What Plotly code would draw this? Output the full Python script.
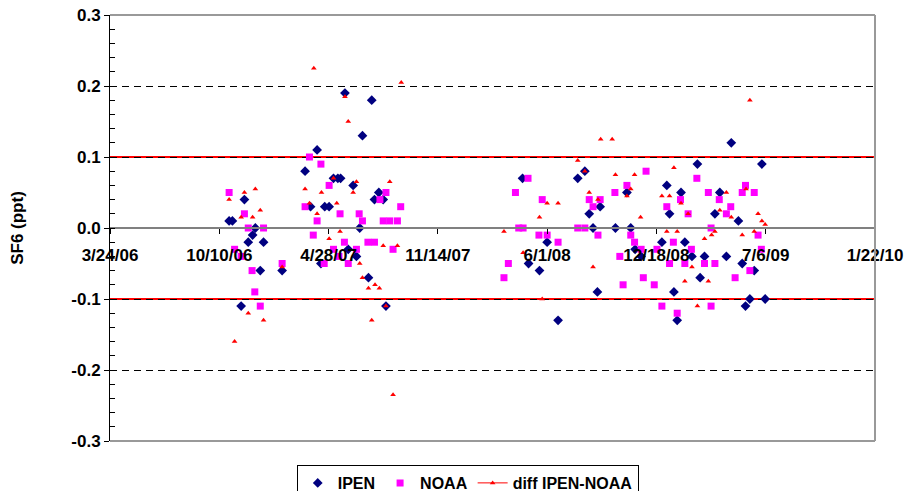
import numpy as np
import pandas as pd
import plotly.graph_objects as go

# ---- data (x as Excel serial dates, y in ppt) ----
ipen_dates = [39018, 39024, 39046, 39053, 39061, 39066, 39040, 39075, 39081, 39115,
              39157, 39179, 39167, 39186, 39193, 39201, 39209, 39217, 39222, 39230,
              39236, 39245, 39251, 39257, 39262, 39273, 39279, 39284, 39292, 39300, 39305,
              39555, 39566, 39586, 39600, 39620, 39656, 39669, 39677, 39684, 39692,
              39697, 39725, 39746, 39753, 39761, 39772, 39810, 39819, 39824, 39832,
              39838, 39845, 39852, 39865, 39875, 39880, 39888, 39907, 39916, 39928,
              39937, 39950, 39957, 39963, 39971, 39979, 39993, 39999]
ipen_vals = [0.01, 0.01, 0.04, -0.02, -0.01, 0.00, -0.11, -0.06, -0.02, -0.06,
             0.08, 0.11, 0.03, -0.05, 0.03, 0.03, 0.07, 0.07, 0.07, 0.19,
             -0.03, 0.06, -0.04, 0.00, 0.13, -0.07, 0.18, 0.04, 0.05, 0.04, -0.11,
             0.07, -0.05, -0.06, -0.02, -0.13, 0.07, 0.08, 0.02, 0.00, -0.09,
             0.03, 0.00, 0.05, 0.00, -0.03, -0.04, -0.02, 0.06, 0.02, -0.09,
             -0.13, 0.05, -0.02, -0.04, 0.09, -0.07, -0.04, 0.02, 0.05, -0.04,
             0.12, 0.01, -0.05, -0.11, -0.10, -0.06, 0.09, -0.10]

noaa_dates = [39018, 39028, 39040, 39046, 39053, 39060, 39065, 39075, 39081, 39115,
              39157, 39165, 39172, 39179, 39186, 39192, 39201, 39209, 39219, 39221,
              39229, 39236, 39251, 39256, 39262, 39272, 39284, 39294, 39300, 39305,
              39312, 39318, 39326, 39332,
              39521, 39529, 39542, 39548, 39556, 39565, 39585, 39591, 39600, 39620,
              39656, 39669, 39677, 39684, 39693, 39697, 39724, 39733, 39739, 39746,
              39753, 39760, 39772, 39776, 39781, 39796, 39801, 39810, 39819, 39824,
              39831, 39838, 39844, 39852, 39858, 39864, 39874, 39888, 39895, 39900,
              39900, 39907, 39915, 39928, 39936, 39944, 39957, 39963, 39971, 39979,
              39986, 39992]
noaa_vals = [0.05, -0.03, -0.04, 0.02, 0.00, -0.06, -0.09, -0.11, 0.00, -0.05,
             0.03, 0.10, -0.01, 0.01, 0.09, -0.05, 0.06, -0.03, -0.04, 0.02,
             -0.02, -0.05, -0.03, 0.02, 0.01, -0.02, -0.02, 0.04, 0.01, 0.05,
             0.01, -0.03, 0.01, 0.03,
             -0.07, -0.05, 0.05, 0.00, 0.00, 0.07, -0.01, 0.04, -0.01, -0.02,
             0.00, 0.00, 0.04, 0.03, -0.01, 0.04, 0.05, -0.04, -0.08, 0.06,
             -0.01, -0.02, -0.03, -0.07, 0.08, -0.08, -0.03, -0.11, 0.03, -0.05,
             -0.02, -0.12, 0.04, -0.05, 0.02, -0.03, 0.07, -0.05, 0.05, 0.00,
             -0.11, -0.05, 0.04, 0.02, 0.03, -0.07, 0.05, 0.06, -0.06, 0.05,
             -0.01, -0.03]

diff_dates = [39018, 39028, 39040, 39046, 39053, 39061, 39066, 39075, 39081, 39115,
              39157, 39165, 39173, 39179, 39187, 39201, 39209, 39215, 39221, 39230,
              39236, 39245, 39251, 39257, 39262, 39273, 39279, 39285, 39293, 39300,
              39305, 39312, 39318, 39326, 39333,
              39521, 39556, 39586, 39591, 39600, 39620, 39656, 39669, 39677, 39684,
              39693, 39698, 39719, 39725, 39746, 39753, 39760, 39771, 39810, 39819,
              39824, 39832, 39838, 39845, 39852, 39858, 39865, 39875, 39888, 39895,
              39901, 39907, 39916, 39928, 39937, 39957, 39964, 39971, 39979, 39986,
              39993, 39999]
diff_vals = [0.04, -0.16, 0.015, 0.05, -0.12, 0.015, 0.055, 0.025, -0.13, -0.055,
             0.055, 0.035, 0.225, 0.02, 0.05, -0.015, 0.07, 0.035, -0.005, 0.185,
             0.15, 0.05, 0.065, -0.05, -0.07, -0.085, -0.13, -0.08, -0.085, -0.025,
             -0.11, 0.065, -0.235, -0.025, 0.205,
             -0.005, -0.035, 0.015, -0.10, 0.035, 0.035, 0.095, 0.08, 0.05, -0.055,
             0.04, 0.125, 0.125, 0.075, 0.045, 0.055, 0.075, 0.015, 0.045, -0.005,
             0.045, 0.085, -0.005, 0.035, -0.075, 0.02, -0.055, -0.11, -0.015, -0.075,
             -0.01, -0.005, 0.025, 0.05, 0.015, -0.01, 0.055, 0.18, -0.005, 0.02,
             0.01, 0.005]

x_tick_serials = [38800, 39000, 39200, 39400, 39600, 39800, 40000, 40200]
x_tick_labels = ["3/24/06", "10/10/06", "4/28/07", "11/14/07", "6/1/08",
                 "12/18/08", "7/6/09", "1/22/10"]
y_tick_vals = [-0.3, -0.2, -0.1, 0.0, 0.1, 0.2, 0.3]
y_tick_labels = ["-0.3", "-0.2", "-0.1", "0.0", "0.1", "0.2", "0.3"]
limit_lines = [0.1, -0.1]


def to_dt(s):
    return pd.to_datetime(np.asarray(s), unit="D", origin="1899-12-30")


FONT = "Liberation Sans, Arial, sans-serif"
fig = go.Figure()

fig.add_trace(go.Scatter(
    x=to_dt(ipen_dates), y=ipen_vals, mode="markers", name="IPEN",
    marker=dict(symbol="diamond", size=7.5, color="#000080")))
fig.add_trace(go.Scatter(
    x=to_dt(noaa_dates), y=noaa_vals, mode="markers", name="NOAA",
    marker=dict(symbol="square", size=7, color="#FF00FF")))
fig.add_trace(go.Scatter(
    x=to_dt(diff_dates), y=diff_vals, mode="markers", name="diff IPEN-NOAA",
    showlegend=False,
    marker=dict(symbol="triangle-up", size=5, color="#FF0000")))
# legend entry for diff (line + marker)
fig.add_trace(go.Scatter(
    x=[None], y=[None], mode="lines+markers", name="diff IPEN-NOAA",
    line=dict(color="#FF0000", width=1),
    marker=dict(symbol="triangle-up", size=5, color="#FF0000")))

for v in limit_lines:
    fig.add_shape(type="line", xref="paper", x0=0, x1=1, yref="y", y0=v, y1=v,
                  line=dict(color="#FF0000", width=2), layer="between")

# plot border (top, right, bottom)
for (x0, y0, x1, y1) in [(0, 1, 1, 1), (1, 0, 1, 1), (0, 0, 1, 0)]:
    fig.add_shape(type="line", xref="paper", yref="paper", x0=x0, y0=y0, x1=x1, y1=y1,
                  line=dict(color="#999999", width=2), layer="above")

fig.update_layout(
    width=910, height=491,
    margin=dict(l=110, r=35, t=15, b=50, autoexpand=False),
    paper_bgcolor="white", plot_bgcolor="white",
    font=dict(family=FONT, size=16, color="black", weight="bold"),
    showlegend=True,
    legend=dict(orientation="h", xref="container", x=0.514, xanchor="center",
                yref="container", y=0.053, yanchor="top",
                bordercolor="black", borderwidth=1, bgcolor="white",
                font=dict(family=FONT, size=16, color="black", weight="bold"),
                itemwidth=30, tracegroupgap=0),
    xaxis=dict(
        type="date", automargin=False,
        range=list(to_dt([x_tick_serials[0], x_tick_serials[-1]])),
        tickmode="array", tickvals=list(to_dt(x_tick_serials)), ticktext=x_tick_labels,
        showgrid=False, zeroline=False,
        showline=True, linecolor="#808080", linewidth=2,
        ticks="outside", ticklen=5, tickcolor="black",
        anchor="free", position=0.5,
        tickfont=dict(family=FONT, size=17, color="black", weight="bold"),
        ticklabelstandoff=7,
    ),
    yaxis=dict(
        range=[-0.3, 0.3], automargin=False,
        tickmode="array", tickvals=y_tick_vals, ticktext=y_tick_labels,
        showgrid=True, gridcolor="black", gridwidth=1, griddash="7px,5px",
        zeroline=False,
        showline=True, linecolor="black", linewidth=1,
        ticks="outside", ticklen=5, tickcolor="black",
        minor=dict(tickmode="linear", tick0=0, dtick=0.02, ticks="inside",
                   ticklen=5, tickcolor="black", showgrid=False),
        tickfont=dict(family=FONT, size=17, color="black", weight="bold"),
        title=dict(text="SF6 (ppt)", standoff=43,
                   font=dict(family=FONT, size=17, color="black", weight="bold")),
    ),
)

fig.write_html("out.html", config={"displayModeBar": False},
               post_script="document.body.style.margin='0';document.body.style.overflow='hidden';")
